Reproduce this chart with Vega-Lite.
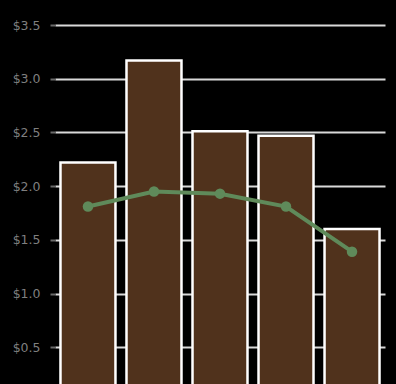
{
  "$schema": "https://vega.github.io/schema/vega-lite/v6.json",
  "autosize": "none",
  "width": 330,
  "height": 376,
  "padding": {"left": 55, "top": 25, "right": 11, "bottom": 0},
  "background": "#000000",
  "config": {"view": {"stroke": null}},
  "data": {"values": [
    {"cat": "A", "bar": 2.22, "line": 1.81},
    {"cat": "B", "bar": 3.17, "line": 1.95},
    {"cat": "C", "bar": 2.51, "line": 1.93},
    {"cat": "D", "bar": 2.47, "line": 1.81},
    {"cat": "E", "bar": 1.60, "line": 1.39}
  ]},
  "encoding": {
    "x": {"field": "cat", "type": "nominal", "scale": {"paddingInner": 0.167, "paddingOuter": 0.083}, "axis": null}
  },
  "layer": [
    {
      "mark": {"type": "bar", "color": "#50321c", "stroke": "#ffffff", "strokeWidth": 2.5},
      "encoding": {
        "y": {"field": "bar", "type": "quantitative", "scale": {"domain": [0, 3.5], "nice": false},
          "axis": {"values": [0.5, 1, 1.5, 2, 2.5, 3, 3.5], "format": "$.1f", "title": null, "domain": false,
            "grid": true, "gridColor": "#d9d9d9", "gridWidth": 2, "tickColor": "#6a6a6a", "tickSize": 5, "tickWidth": 2,
            "labelColor": "#7f7f7f", "labelFont": "DejaVu Sans", "labelFontSize": 12.5, "labelPadding": 10}}
      }
    },
    {
      "mark": {"type": "line", "color": "#5f8a5a", "strokeWidth": 4, "point": {"filled": true, "size": 110, "color": "#5f8a5a"}},
      "encoding": {"y": {"field": "line", "type": "quantitative"}}
    }
  ]
}
